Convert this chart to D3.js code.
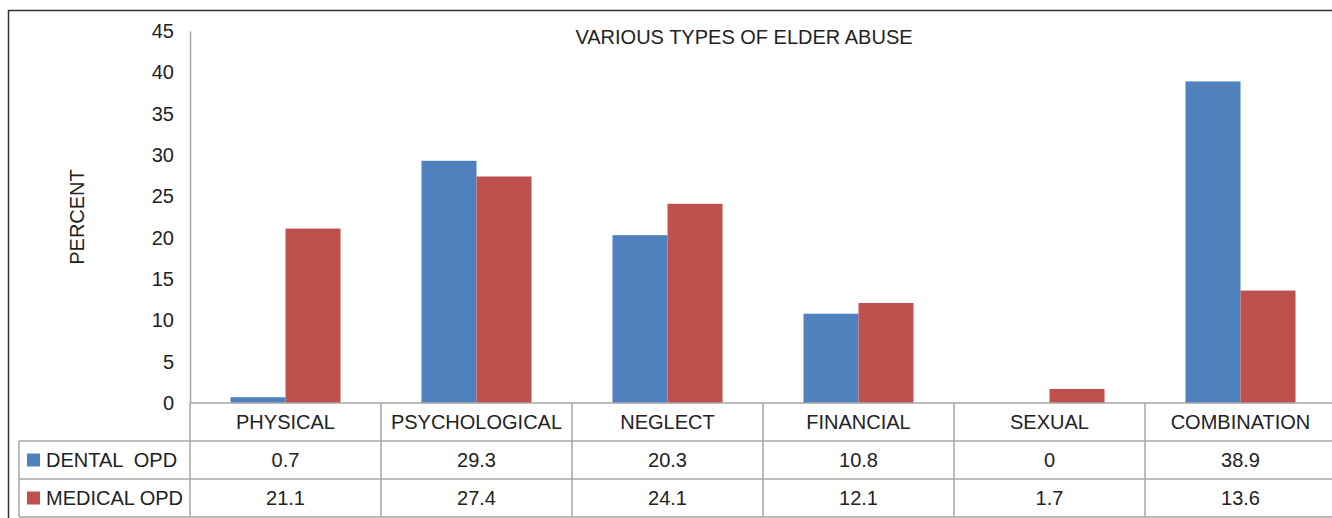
<!DOCTYPE html>
<html><head><meta charset="utf-8">
<script src="https://cdn.jsdelivr.net/npm/d3@7"></script>
<style>body{margin:0;background:#fff}svg{display:block;font-family:"Liberation Sans",Arial,sans-serif}</style>
</head><body><svg id="c" width="1332" height="518"></svg>
<script>
const categories = ["PHYSICAL","PSYCHOLOGICAL","NEGLECT","FINANCIAL","SEXUAL","COMBINATION"];
const seriesNames = ["DENTAL  OPD","MEDICAL OPD"];
const dental = [0.7,29.3,20.3,10.8,0,38.9];
const medical = [21.1,27.4,24.1,12.1,1.7,13.6];
const dentalLabels = ["0.7","29.3","20.3","10.8","0","38.9"];
const medicalLabels = ["21.1","27.4","24.1","12.1","1.7","13.6"];
const yTicks = [0,5,10,15,20,25,30,35,40,45];
const colors = ["#4F81BD","#C0504D"];
const title = "VARIOUS TYPES OF ELDER ABUSE";
const yTitle = "PERCENT";

const svg = d3.select("#c");
const gridC = "#a6a6a6";
const fs = 20;
// outer border
svg.append("rect").attr("x",8.5).attr("y",10.5).attr("width",1340).attr("height",520)
  .attr("fill","none").attr("stroke","#333").attr("stroke-width",1.5);

const x0 = 190, x1 = 1336, yTop = 31, yBot = 403;
const x = d3.scaleBand().domain(categories).range([x0,x1]).paddingInner(0).paddingOuter(0);
const xs = d3.scaleBand().domain([0,1]).range([0,x.bandwidth()]).paddingInner(0).paddingOuter(0.736);
const y = d3.scaleLinear().domain([0,45]).range([yBot,yTop]);

// bars
const series = [dental, medical];
series.forEach((vals,si)=>{
  svg.append("g").selectAll("rect").data(vals).join("rect")
    .attr("x",(d,i)=>x(categories[i])+xs(si))
    .attr("width",xs.bandwidth())
    .attr("y",d=>y(d))
    .attr("height",d=>y(0)-y(d))
    .attr("fill",colors[si]);
});

// y axis
const yAxis = d3.axisLeft(y).tickValues(yTicks).tickSize(0).tickPadding(16);
const ga = svg.append("g").attr("transform",`translate(${x0},0)`).call(yAxis);
ga.select(".domain").attr("stroke",gridC).attr("stroke-width",1.5);
ga.selectAll("text").attr("font-size",fs).attr("fill","#222").attr("font-family","Liberation Sans, Arial, sans-serif");

// y title
svg.append("text").attr("transform","translate(84,217) rotate(-90)").attr("text-anchor","middle")
  .attr("font-size",fs).attr("fill","#222").text(yTitle);
// title
svg.append("text").attr("x",744).attr("y",44).attr("text-anchor","middle").attr("font-size",fs).attr("fill","#222").text(title);

// data table
const rowH = 38;
const rows = [yBot, yBot+rowH, yBot+2*rowH, yBot+3*rowH];
const tl = 19;
const lines = svg.append("g").attr("stroke",gridC).attr("stroke-width",1.5);
lines.append("line").attr("x1",x0).attr("x2",x1).attr("y1",rows[0]).attr("y2",rows[0]);
[1,2,3].forEach(k=>lines.append("line").attr("x1",tl).attr("x2",x1).attr("y1",rows[k]).attr("y2",rows[k]));
lines.append("line").attr("x1",tl).attr("x2",tl).attr("y1",rows[1]).attr("y2",rows[3]);
lines.append("line").attr("x1",x0).attr("x2",x0).attr("y1",rows[0]).attr("y2",rows[3]);
categories.forEach(c=>{
  const xe = x(c)+x.bandwidth();
  lines.append("line").attr("x1",xe).attr("x2",xe).attr("y1",rows[0]).attr("y2",rows[3]);
});
const tg = svg.append("g").attr("font-size",fs).attr("fill","#222").attr("text-anchor","middle");
categories.forEach((c,i)=>{
  const cx = x(c)+x.bandwidth()/2;
  tg.append("text").attr("x",cx).attr("y",rows[0]+rowH/2+7).text(c);
  tg.append("text").attr("x",cx).attr("y",rows[1]+rowH/2+7).text(dentalLabels[i]);
  tg.append("text").attr("x",cx).attr("y",rows[2]+rowH/2+7).text(medicalLabels[i]);
});
seriesNames.forEach((s,si)=>{
  const ry = rows[1+si];
  svg.append("rect").attr("x",27).attr("y",ry+rowH/2-6.5).attr("width",13).attr("height",13).attr("fill",colors[si]);
  svg.append("text").attr("x",46).attr("y",ry+rowH/2+7).attr("font-size",fs).attr("fill","#222")
    .attr("xml:space","preserve").style("white-space","pre").text(s);
});
</script></body></html>
